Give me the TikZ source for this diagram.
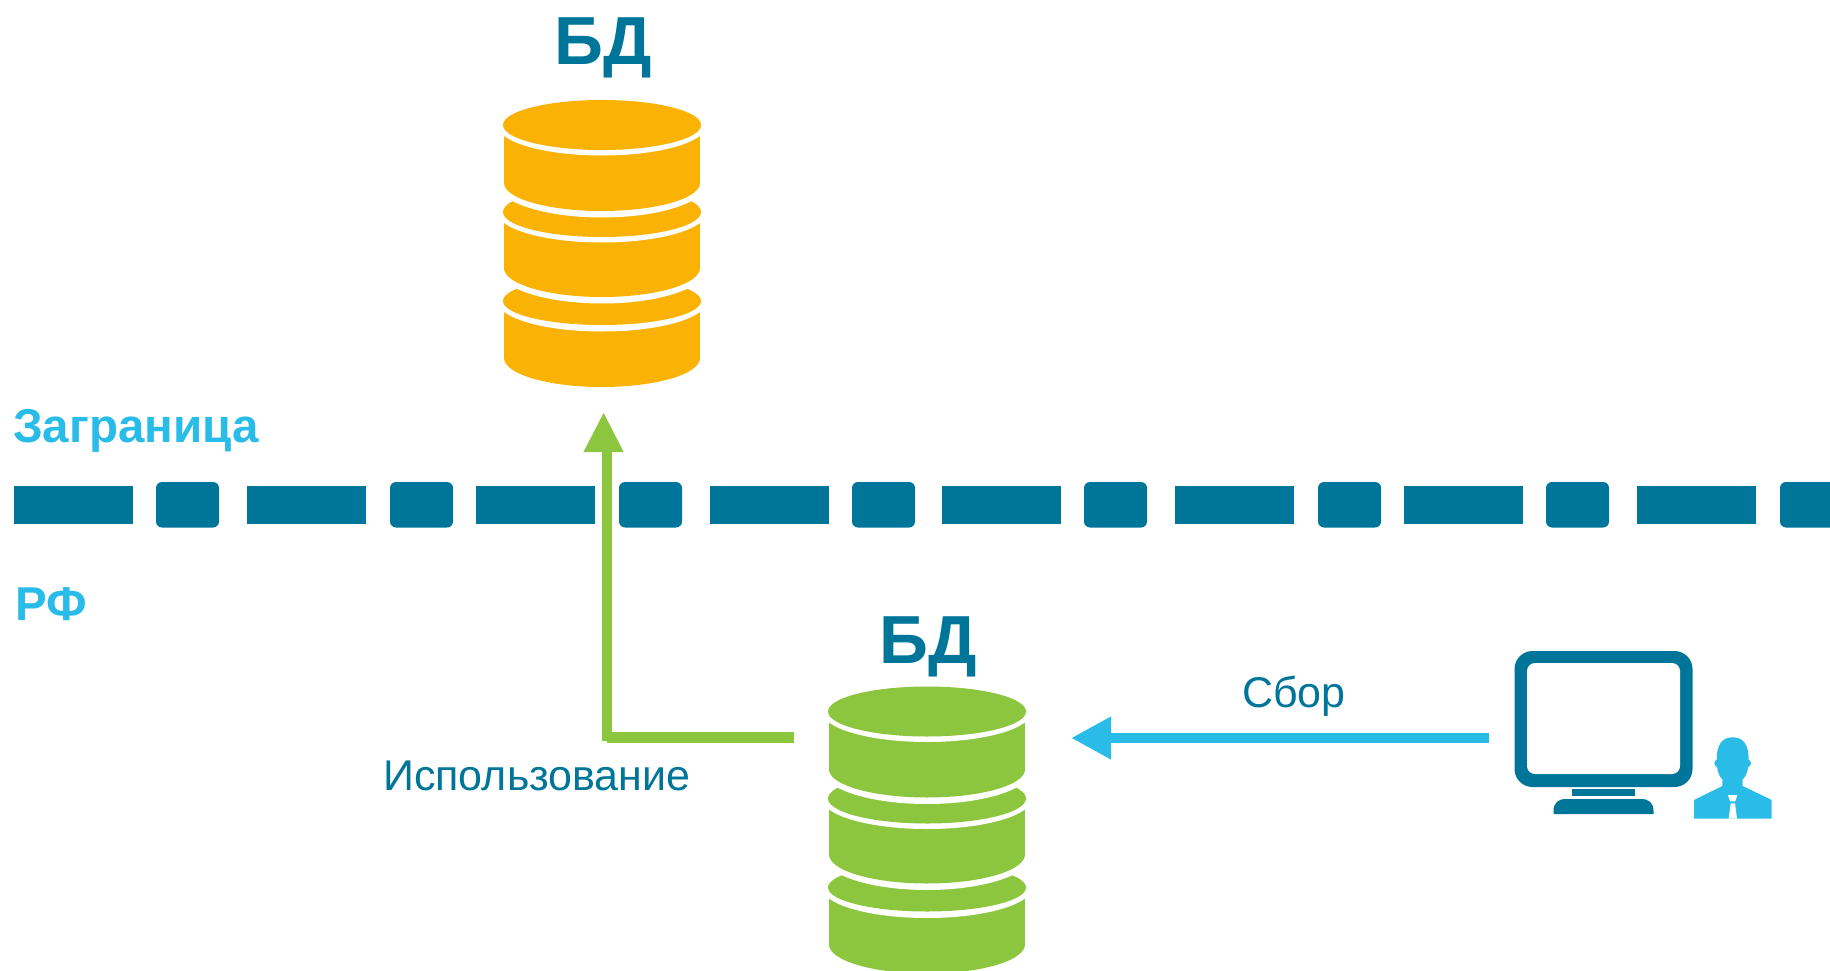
\documentclass[tikz,border=0pt]{standalone}
\usepackage{fontspec}
\setmainfont{Liberation Sans}
\usetikzlibrary{arrows.meta}
\definecolor{deepblue}{HTML}{00759A}
\definecolor{skyblue}{HTML}{29BCE8}
\definecolor{dbyellow}{HTML}{FAB204}
\definecolor{dbgreen}{HTML}{8CC63F}
\tikzset{
  x=1pt,y=-1pt,
  flatdash/.style={fill=deepblue,draw=none},
  rounddash/.style={fill=deepblue,draw=none,rounded corners=6pt},
  dblabel/.style={font=\fontsize{68}{68}\selectfont\bfseries,text=deepblue,inner sep=0pt,anchor=base},
  zonelabel/.style={font=\fontsize{47.5}{47.5}\selectfont\bfseries,text=skyblue,inner sep=0pt,anchor=base west},
  flowlabel/.style={font=\fontsize{43}{43}\selectfont,text=deepblue,inner sep=0pt,anchor=base west},
  useline/.style={draw=dbgreen,line width=10.5pt},
  pics/dbstack/.style={code={
    \fill[#1] (-98,176) rectangle (98,233);
    \fill[#1] (0,233) ellipse[x radius=98pt,y radius=29pt];
    \fill[white] (0,176) ellipse[x radius=105pt,y radius=30.5pt];
    \fill[#1] (0,176) ellipse[x radius=99pt,y radius=24pt];
    \fill[white] (0,143) ellipse[x radius=105pt,y radius=35.5pt];
    \fill[#1] (-98,87) rectangle (98,143);
    \fill[#1] (0,143) ellipse[x radius=98pt,y radius=29pt];
    \fill[white] (0,87) ellipse[x radius=105pt,y radius=30.5pt];
    \fill[#1] (0,87) ellipse[x radius=99pt,y radius=25pt];
    \fill[white] (0,58) ellipse[x radius=105pt,y radius=34.5pt];
    \fill[#1] (-98,0) rectangle (98,58);
    \fill[#1] (0,58) ellipse[x radius=98pt,y radius=28pt];
    \fill[white] (0,0) ellipse[x radius=105pt,y radius=30.5pt];
    \fill[#1] (0,0) ellipse[x radius=99pt,y radius=25pt];
  }},
}
\begin{document}
\begin{tikzpicture}
\useasboundingbox (0,0) rectangle (1830,971);
\begin{scope}
\clip (0,0) rectangle (1830,971);
% border line
\foreach \a/\b in {14/133,247/366,476/595,710/829,942/1061,1175/1294,1404/1523,1637/1756}
  \fill[flatdash] (\a,485.5) rectangle (\b,524);
\foreach \a/\b in {156/219,390/453,619/682,852/915,1084/1147,1318/1381,1546/1609,1780/1850}
  \fill[rounddash] (\a,482) rectangle (\b,527.5);
% databases
\pic (dbY) at (602,125) {dbstack=dbyellow};
\pic (dbG) at (927,711.5) {dbstack=dbgreen};
\end{scope}
\node[dblabel] (lblY) at (603,65) {БД};
\node[dblabel] (lblG) at (928,663) {БД};
\node[zonelabel] (zoneA) at (13,442) {Заграница};
\node[zonelabel] (zoneB) at (15,620) {РФ};
\node[flowlabel] (flowCollect) at (1242,707) {Сбор};
\node[flowlabel] (flowUse) at (383,790) {Использование};
% use arrow
\coordinate (useStart) at (794,737.5);
\coordinate (useCorner) at (607,737.5);
\coordinate (useLow) at (607,741);
\coordinate (useNeck) at (607,450);
\coordinate (useBase) at (603.6,462);
\coordinate (useTip) at (603.6,413);
\draw[useline] (useStart) -- (useCorner);
\draw[useline] (useLow) -- (useNeck);
\draw[draw=dbgreen,line width=1pt,-{Triangle[length=39pt,width=40pt,fill=dbgreen]}] (useBase) -- (useTip);
% collect arrow
\coordinate (colStart) at (1489,738);
\coordinate (colTip) at (1071,738);
\draw[draw=skyblue,line width=10pt,-{Triangle[length=40pt,width=40pt,fill=skyblue]}] (colStart) -- (colTip);
% monitor
\fill[deepblue,rounded corners=18pt] (1514.5,651) rectangle (1692.5,787);
\fill[white,rounded corners=8pt] (1527,663) rectangle (1680,774);
\fill[deepblue] (1572,789) rectangle (1635,796);
\fill[deepblue] (1553.5,814) -- (1553.5,811) .. controls (1553.5,803) and (1558,799) .. (1566,799) -- (1641,799) .. controls (1649,799) and (1653.5,803) .. (1653.5,811) -- (1653.5,814) -- cycle;
% person
\begin{scope}[shift={(1490,630)},x=0.33333pt,y=-0.33333pt]
\fill[skyblue] (680,390) .. controls (680,345) and (695,322) .. (728,322) .. controls (761,322) and (776,345) .. (776,390) .. controls (776,420) and (768,440) .. (758,448) -- (697,448) .. controls (687,440) and (680,420) .. (680,390) -- cycle;
\fill[skyblue] (685,400) circle[radius=4pt];
\fill[skyblue] (771,400) circle[radius=4pt];
\fill[skyblue] (612,566) -- (612,510) -- (697,468) -- (697,440) -- (758,440) -- (758,468) -- (845,510) -- (845,566) -- cycle;
\fill[white] (714,495) -- (742,495) -- (736,514) -- (720,514) -- cycle;
\fill[white] (722,520) -- (735,520) -- (741,566) -- (716,566) -- cycle;
\end{scope}
\end{tikzpicture}
\end{document}
